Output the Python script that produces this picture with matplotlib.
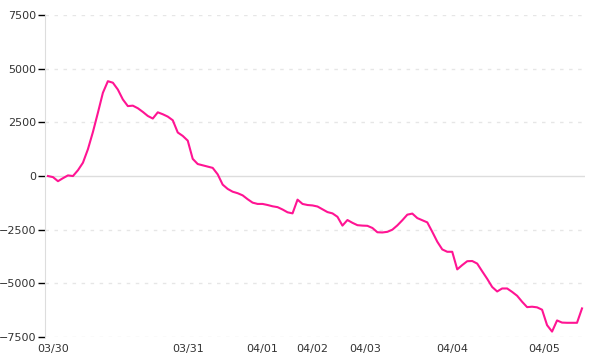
import matplotlib
matplotlib.use("Agg")
import matplotlib.pyplot as plt

# value per sample (about one every few hours)
values = [0, -50, -240, -100, 30, 0, 270, 620, 1250, 2050,
          2950, 3880, 4420, 4350, 4030, 3570, 3260, 3280, 3160, 2990,
          2800, 2680, 2970, 2880, 2770, 2600, 2030, 1870, 1650, 800,
          560, 500, 440, 380, 80, -400, -600, -730, -800, -900,
          -1080, -1240, -1300, -1300, -1350, -1410, -1450, -1560, -1690, -1740,
          -1100, -1300, -1350, -1370, -1420, -1550, -1680, -1740, -1900, -2310,
          -2050, -2180, -2290, -2310, -2320, -2420, -2620, -2630, -2600, -2500,
          -2300, -2060, -1800, -1750, -1960, -2060, -2160, -2600, -3060, -3420,
          -3530, -3530, -4350, -4150, -3970, -3960, -4080, -4440, -4790, -5170,
          -5380, -5240, -5240, -5400, -5580, -5860, -6110, -6090, -6120, -6230,
          -6950, -7250, -6730, -6830, -6840, -6840, -6840, -6170]

date_labels = ["03/30", "03/31", "04/01", "04/02", "04/03", "04/04", "04/05"]
date_pos = [1, 28, 43, 53, 63.5, 81, 99.5]
y_ticks = [-7500, -5000, -2500, 0, 2500, 5000, 7500]

x = range(0, len(values))

fig = plt.figure(figsize=(6, 3.6), dpi=100)
ax = fig.add_axes([0.075, 0.064, 0.9, 0.894])

# grid: dashed light lines, solid one at zero
for v in y_ticks:
    if v == 0:
        ax.axhline(v, color='#dddddd', linewidth=1, zorder=1)
    else:
        ax.axhline(v, color='#e6e6e6', linewidth=1, linestyle=(0, (2.5, 4)), zorder=1)

ax.plot(x, values, color='#ff1493', linewidth=1.5, zorder=3)

ax.set_xlim(-0.6, len(values) - 0.4)
ax.set_ylim(-7500, 7500)
ax.set_yticks(y_ticks)
ax.set_yticklabels([str(v).replace('-', '\u2212') for v in y_ticks])
ax.set_xticks(date_pos)
ax.set_xticklabels(date_labels)

for s in ['top', 'right', 'bottom']:
    ax.spines[s].set_visible(False)
ax.spines['left'].set_color('#dddddd')
ax.tick_params(axis='y', length=5, width=1, color='black', pad=1,
               labelsize=8, labelcolor='#333333')
ax.tick_params(axis='x', length=0, pad=5, labelsize=8, labelcolor='#333333')

fig.savefig("out.png", dpi=100)
